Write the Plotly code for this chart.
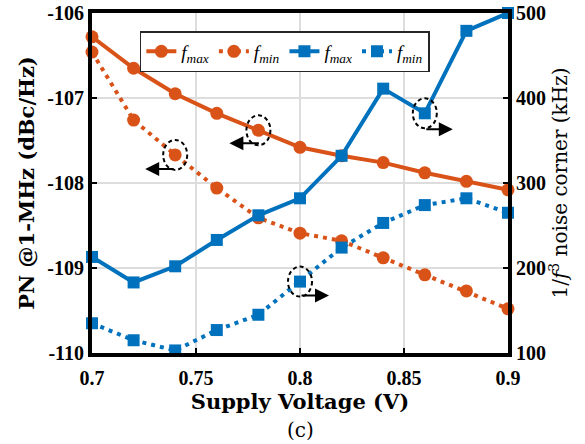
import plotly.graph_objects as go

voltage = [0.70, 0.72, 0.74, 0.76, 0.78, 0.80, 0.82, 0.84, 0.86, 0.88, 0.90]
pn_fmax = [-106.28, -106.65, -106.95, -107.18, -107.38, -107.58, -107.68, -107.76, -107.88, -107.98, -108.08]
pn_fmin = [-106.46, -107.26, -107.67, -108.06, -108.41, -108.59, -108.68, -108.88, -109.08, -109.27, -109.48]
corner_fmax = [213, 183, 202, 233, 262, 282, 332, 411, 382, 479, 500]
corner_fmin = [135, 115, 103, 127, 145, 184, 224, 253, 274, 282, 265]

x_ticks = [0.7, 0.75, 0.8, 0.85, 0.9]
y_ticks = [-110, -109, -108, -107, -106]
y2_ticks = [100, 200, 300, 400, 500]

ORANGE = "#D95319"
BLUE = "#0072BD"
TICKFONT = dict(family="Liberation Serif", size=20, color="black", weight="bold")
TITLEFONT = dict(family="DejaVu Serif", size=21, color="black")

fig = go.Figure()
fig.add_trace(go.Scatter(x=voltage, y=pn_fmax, mode="lines+markers", name="<i>f</i><sub><i>max</i></sub>",
                         line=dict(color=ORANGE, width=4), marker=dict(symbol="circle", size=13, color=ORANGE),
                         cliponaxis=False))
fig.add_trace(go.Scatter(x=voltage, y=pn_fmin, mode="lines+markers", name="<i>f</i><sub><i>min</i></sub>",
                         line=dict(color=ORANGE, width=4, dash="4px,5px"), marker=dict(symbol="circle", size=13, color=ORANGE),
                         cliponaxis=False))
fig.add_trace(go.Scatter(x=voltage, y=corner_fmax, mode="lines+markers", name="<i>f</i><sub><i>max</i></sub>", yaxis="y2",
                         line=dict(color=BLUE, width=4), marker=dict(symbol="square", size=12, color=BLUE),
                         cliponaxis=False))
fig.add_trace(go.Scatter(x=voltage, y=corner_fmin, mode="lines+markers", name="<i>f</i><sub><i>min</i></sub>", yaxis="y2",
                         line=dict(color=BLUE, width=4, dash="4px,5px"), marker=dict(symbol="square", size=12, color=BLUE),
                         cliponaxis=False))

# dashed circles + arrows marking which axis each group belongs to
marks = [
    (voltage[2], pn_fmin[2], "y", -30, -14, 30),
    (voltage[4], pn_fmax[4], "y", -29, -13, 31),
    (voltage[5], corner_fmin[5], "y2", 29, -14, -29),
    (voltage[8], corner_fmax[8], "y2", 28, -16, -28),
]
shapes = []
annotations = []
for (mx, my, yr, xs, ys, axp) in marks:
    shapes.append(dict(type="circle", xref="x", yref=yr, xsizemode="pixel", ysizemode="pixel",
                       xanchor=mx, yanchor=my, x0=-12, x1=12, y0=-15, y1=15,
                       line=dict(color="black", width=2, dash="4px,3px")))
    annotations.append(dict(x=mx, y=my, xref="x", yref=yr, text="", showarrow=True,
                            ax=axp, ay=0, xshift=xs, yshift=ys, arrowhead=2, arrowsize=1.4,
                            arrowwidth=2, arrowcolor="black", standoff=0, startstandoff=0))

annotations.append(dict(x=0.5, y=-0.226, xref="paper", yref="paper", text="(c)", showarrow=False,
                        xanchor="center", yanchor="middle",
                        font=dict(family="DejaVu Serif", size=20, color="black")))

fig.update_layout(
    width=585, height=444,
    margin=dict(l=92, r=77, t=13, b=91),
    paper_bgcolor="white", plot_bgcolor="white",
    showlegend=True,
    legend=dict(orientation="h", x=0.115, y=0.947, xanchor="left", yanchor="top",
                bgcolor="white", bordercolor="#262626", borderwidth=1.5,
                font=dict(family="Liberation Serif", size=19, color="black"),
                tracegroupgap=0, itemwidth=30),
    xaxis=dict(range=[0.7, 0.9], tickvals=x_ticks, ticktext=["0.7", "0.75", "0.8", "0.85", "0.9"],
               showline=True, linewidth=4, linecolor="black", mirror=True, automargin=False,
               ticks="inside", ticklen=5, tickwidth=2, tickcolor="black", ticklabelstandoff=4,
               showgrid=True, gridcolor="#DDDDDD", gridwidth=1.5, zeroline=False,
               tickfont=TICKFONT,
               title=dict(text="<b>Supply Voltage (V)</b>", font=TITLEFONT, standoff=5)),
    yaxis=dict(range=[-110, -106], tickvals=y_ticks, ticktext=[str(v) for v in y_ticks],
               showline=True, linewidth=4, linecolor="black", automargin=False,
               ticks="inside", ticklen=5, tickwidth=2, tickcolor="black",
               showgrid=True, gridcolor="#DDDDDD", gridwidth=1.5, zeroline=False,
               tickfont=TICKFONT,
               title=dict(text="<b>PN @1-MHz (dBc/Hz)</b>", font=TITLEFONT, standoff=8)),
    yaxis2=dict(range=[100, 500], tickvals=y2_ticks, overlaying="y", side="right",
                showline=True, linewidth=4, linecolor="black", automargin=False,
                ticks="inside", ticklen=5, tickwidth=2, tickcolor="black",
                showgrid=False, zeroline=False, tickfont=TICKFONT,
                title=dict(text="1/<i>f</i><sup>3</sup> noise corner (kHz)", font=dict(family="DejaVu Serif", size=20, color="black"), standoff=8)),
    shapes=shapes,
    annotations=annotations,
)

fig.write_html("out.html")
